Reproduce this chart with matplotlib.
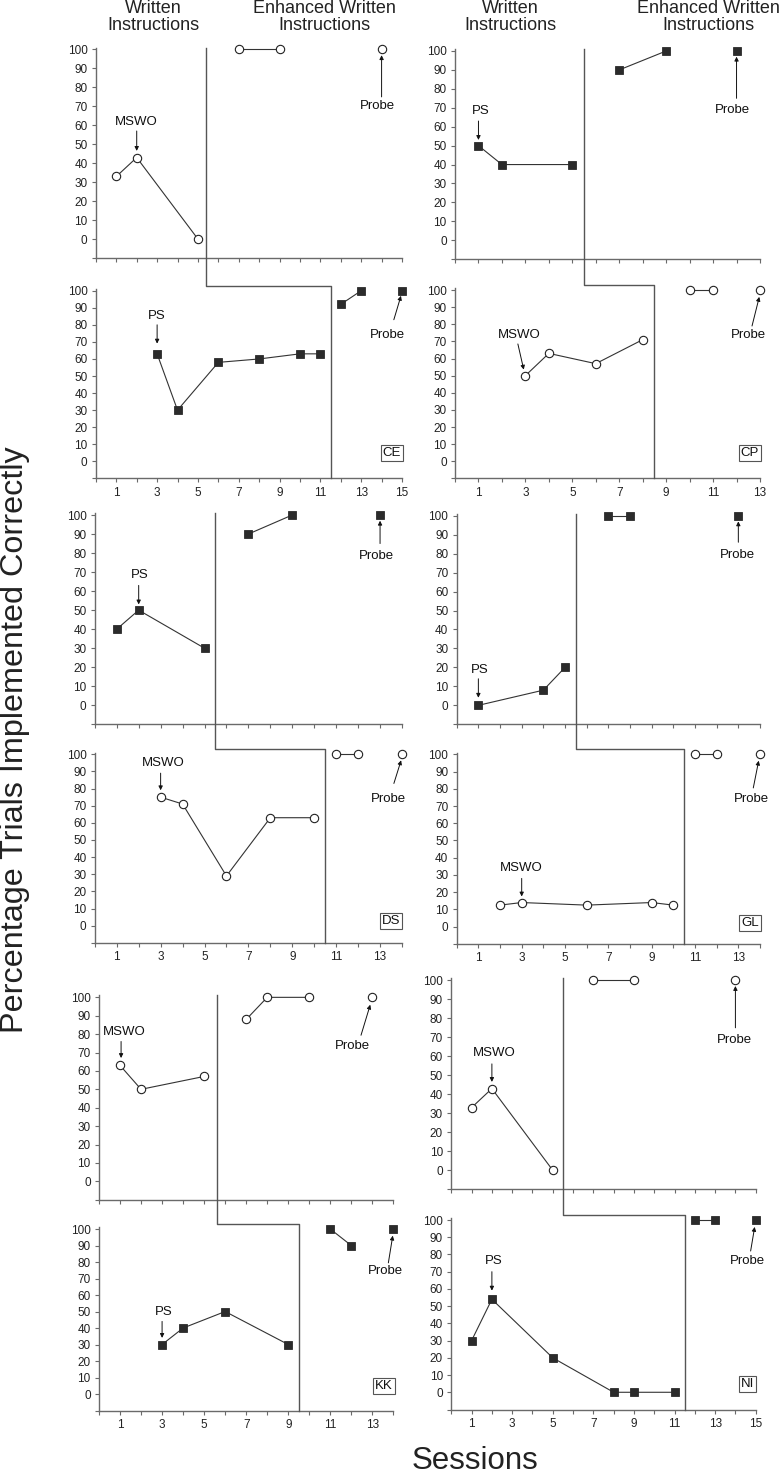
import matplotlib.pyplot as plt
from matplotlib.lines import Line2D

plt.rcParams['font.family'] = ['Liberation Sans', 'DejaVu Sans']

# ---- data: (session, percent) ----
ce_top_base = [(1, 33), (2, 43), (5, 0)]
ce_top_treat = [(7, 100), (9, 100)]
ce_top_probe = (14, 100)
ce_bot_base = [(3, 63), (4, 30), (6, 58), (8, 60), (10, 63), (11, 63)]
ce_bot_treat = [(12, 92), (13, 100)]
ce_bot_probe = (15, 100)

cp_top_base = [(1, 50), (2, 40), (5, 40)]
cp_top_treat = [(7, 90), (9, 100)]
cp_top_probe = (12, 100)
cp_bot_base = [(3, 50), (4, 63), (6, 57), (8, 71)]
cp_bot_treat = [(10, 100), (11, 100)]
cp_bot_probe = (13, 100)

ds_top_base = [(1, 40), (2, 50), (5, 30)]
ds_top_treat = [(7, 90), (9, 100)]
ds_top_probe = (13, 100)
ds_bot_base = [(3, 75), (4, 71), (6, 29), (8, 63), (10, 63)]
ds_bot_treat = [(11, 100), (12, 100)]
ds_bot_probe = (14, 100)

gl_top_base = [(1, 0), (4, 8), (5, 20)]
gl_top_treat = [(7, 100), (8, 100)]
gl_top_probe = (13, 100)
gl_bot_base = [(2, 12.5), (3, 14), (6, 12.5), (9, 14), (10, 12.5)]
gl_bot_treat = [(11, 100), (12, 100)]
gl_bot_probe = (14, 100)

kk_top_base = [(1, 63), (2, 50), (5, 57)]
kk_top_treat = [(7, 88), (8, 100), (10, 100)]
kk_top_probe = (13, 100)
kk_bot_base = [(3, 30), (4, 40), (6, 50), (9, 30)]
kk_bot_treat = [(11, 100), (12, 90)]
kk_bot_probe = (14, 100)

ni_top_base = [(1, 33), (2, 43), (5, 0)]
ni_top_treat = [(7, 100), (9, 100)]
ni_top_probe = (14, 100)
ni_bot_base = [(1, 30), (2, 54), (5, 20), (8, 0), (9, 0), (11, 0)]
ni_bot_treat = [(12, 100), (13, 100)]
ni_bot_probe = (15, 100)

# phase change positions (top panel, bottom panel)
phase_lines = {'CE': (5.4, 11.5), 'CP': (5.5, 8.5), 'DS': (5.5, 10.5),
               'GL': (5.5, 10.5), 'KK': (5.6, 9.5), 'NI': (5.5, 11.5)}

# ---- layout in pixels: left, right, top-panel (top, bottom), bottom-panel (top, bottom), xmax
layout = {
    'CE': (95.9, 402, (47.6, 258), (289, 478.4), 15),
    'CP': (455, 760, (49.1, 259.2), (288.3, 478.4), 13),
    'DS': (94.8, 402, (513.1, 724.3), (752.6, 942.8), 14),
    'GL': (456.7, 760, (513.8, 724.3), (752.6, 943.9), 14),
    'KK': (99, 393.4, (995.5, 1199.7), (1227.4, 1410.5), 14),
    'NI': (451.3, 755.7, (978.4, 1189.3), (1218.3, 1409.5), 15),
}

# annotations: (label, text_xy, arrow_from, arrow_to)
notes = {
    'CE': [[('MSWO', (2, 62), (2, 57), (2, 46.5)), ('Probe', (13.8, 70), (14, 75), (14, 97))],
           [('PS', (3, 85), (3, 80), (3, 69)), ('Probe', (14.3, 74), (14.6, 83), (14.95, 97))]],
    'CP': [[('PS', (1.1, 68.5), (1, 63), (1, 53)), ('Probe', (11.84, 69), (12, 75), (12, 97))],
           [('MSWO', (2.72, 74), (2.68, 68.5), (2.93, 53.5)), ('Probe', (12.52, 74), (12.66, 79), (12.97, 96))]],
    'DS': [[('PS', (2.03, 68.5), (2, 63), (2, 53)), ('Probe', (12.85, 78.5), (13, 85), (13, 97))],
           [('MSWO', (3.1, 95), (3, 89), (3, 79)), ('Probe', (13.4, 74), (13.63, 83), (13.96, 96.5))]],
    'GL': [[('PS', (1.05, 18.6), (1, 14), (1, 4)), ('Probe', (12.96, 79.3), (13, 86), (13, 97))],
           [('MSWO', (3, 34), (3, 28), (3, 17.5)), ('Probe', (13.6, 74), (13.69, 80.5), (13.94, 96.3))]],
    'KK': [[('MSWO', (1.2, 81), (1.05, 76), (1.05, 67)), ('Probe', (12.06, 73.7), (12.46, 79.4), (12.9, 96))],
           [('PS', (3.1, 49.5), (3, 44), (3, 34)), ('Probe', (13.6, 74.5), (13.76, 79.5), (13.97, 96))]],
    'NI': [[('MSWO', (2.1, 62), (2, 56), (2, 46.5)), ('Probe', (13.93, 68.6), (14, 75), (14, 97))],
           [('PS', (2.1, 76), (2, 70), (2, 59)), ('Probe', (14.6, 76.2), (14.75, 82), (14.95, 96))]],
}

name_pos = {'CE': (14.5, 5), 'CP': (12.57, 5), 'DS': (13.5, 2.5),
            'GL': (13.54, 2), 'KK': (13.55, 5), 'NI': (14.6, 5)}

panels = {
    'CE': [(ce_top_base, ce_top_treat, ce_top_probe, 'o'), (ce_bot_base, ce_bot_treat, ce_bot_probe, 's')],
    'CP': [(cp_top_base, cp_top_treat, cp_top_probe, 's'), (cp_bot_base, cp_bot_treat, cp_bot_probe, 'o')],
    'DS': [(ds_top_base, ds_top_treat, ds_top_probe, 's'), (ds_bot_base, ds_bot_treat, ds_bot_probe, 'o')],
    'GL': [(gl_top_base, gl_top_treat, gl_top_probe, 's'), (gl_bot_base, gl_bot_treat, gl_bot_probe, 'o')],
    'KK': [(kk_top_base, kk_top_treat, kk_top_probe, 'o'), (kk_bot_base, kk_bot_treat, kk_bot_probe, 's')],
    'NI': [(ni_top_base, ni_top_treat, ni_top_probe, 'o'), (ni_bot_base, ni_bot_treat, ni_bot_probe, 's')],
}

W, H = 780, 1478
fig = plt.figure(figsize=(W / 100, H / 100), dpi=100)

AXIS_COL = '#6a6a6a'
LINE_COL = '#333333'


def add_ax(left, right, top, bottom):
    return fig.add_axes([left / W, 1 - bottom / H, (right - left) / W, (bottom - top) / H])


def style_marker(m):
    if m == 's':
        return dict(marker='s', ms=5.5, mfc='#2b2b2b', mec='#2b2b2b', mew=0.6)
    return dict(marker='o', ms=6, mfc='white', mec='#222222', mew=0.8)


def draw(ax, base, treat, probe, m, xmax, labels):
    mk = style_marker(m)
    for seg in (base, treat):
        xs = [p[0] for p in seg]
        ys = [p[1] for p in seg]
        ax.plot(xs, ys, color=LINE_COL, lw=0.8, clip_on=False, zorder=3, **mk)
    ax.plot([probe[0]], [probe[1]], color=LINE_COL, clip_on=False, zorder=3, **mk)
    ax.set_xlim(0, xmax)
    ax.set_ylim(-10, 101)
    for s in ('top', 'right'):
        ax.spines[s].set_visible(False)
    for s in ('left', 'bottom'):
        ax.spines[s].set_color(AXIS_COL)
        ax.spines[s].set_linewidth(1.0)
    ax.set_yticks(range(-10, 101, 10))
    ax.set_yticklabels([''] + [str(v) for v in range(0, 101, 10)])
    ax.set_xticks(range(0, xmax + 1))
    if labels:
        ax.set_xticklabels([str(v) if v % 2 == 1 else '' for v in range(0, xmax + 1)])
    else:
        ax.set_xticklabels([])
    ax.tick_params(direction='out', length=3, width=0.8, color=AXIS_COL,
                   labelsize=8.5, labelcolor='#222222')
    ax.tick_params(axis='y', pad=3)
    ax.tick_params(axis='x', pad=3)
    ax.patch.set_alpha(0)


def annotate(ax, note):
    label, txy, a0, a1 = note
    ax.text(txy[0], txy[1], label, ha='center', va='center', fontsize=9.5, color='#111111')
    ax.annotate('', xy=a1, xytext=a0,
                arrowprops=dict(arrowstyle='-|>', lw=0.7, color='#111111',
                                mutation_scale=6, shrinkA=0, shrinkB=0))


to_fig = fig.transFigure.inverted()

for name, (left, right, (t1, b1), (t2, b2), xmax) in layout.items():
    ax_top = add_ax(left, right, t1, b1)
    ax_bot = add_ax(left, right, t2, b2)
    for ax, spec, lab, nts in ((ax_top, panels[name][0], False, notes[name][0]),
                               (ax_bot, panels[name][1], True, notes[name][1])):
        draw(ax, *spec, xmax, lab)
        for n in nts:
            annotate(ax, n)
    nx, ny = name_pos[name]
    ax_bot.text(nx, ny, name, ha='center', va='center', fontsize=9.5, color='#111111',
                bbox=dict(boxstyle='square,pad=0.15', fc='white', ec='#555555', lw=0.8))

    # stepped phase-change line
    xt, xb = phase_lines[name]
    p1 = to_fig.transform(ax_top.transData.transform((xt, 101)))
    p2 = to_fig.transform(ax_bot.transData.transform((xt, 103)))
    p2 = (p1[0], p2[1])
    p3x = to_fig.transform(ax_bot.transData.transform((xb, 103)))[0]
    p4 = to_fig.transform(ax_bot.transData.transform((xb, -10)))
    fig.add_artist(Line2D([p1[0], p2[0], p3x, p4[0]], [p1[1], p2[1], p2[1], p4[1]],
                          transform=fig.transFigure, color='#555555', lw=1.0))

# phase titles
for cx, txt in ((153, 'Written\nInstructions'), (324, 'Enhanced Written\nInstructions'),
                (510, 'Written\nInstructions'), (708, 'Enhanced Written\nInstructions')):
    fig.text(cx / W, 1 - 17 / H, txt, ha='center', va='center', fontsize=13,
             linespacing=0.95, color='#222222')

fig.text(15 / W, 1 - 740 / H, 'Percentage Trials Implemented Correctly', rotation=90,
         ha='center', va='center', fontsize=23.3, color='#222222')
fig.text(475 / W, 1 - 1461 / H, 'Sessions', ha='center', va='center', fontsize=22.5,
         color='#222222')

fig.savefig('out.png', dpi=100)
plt.close(fig)
